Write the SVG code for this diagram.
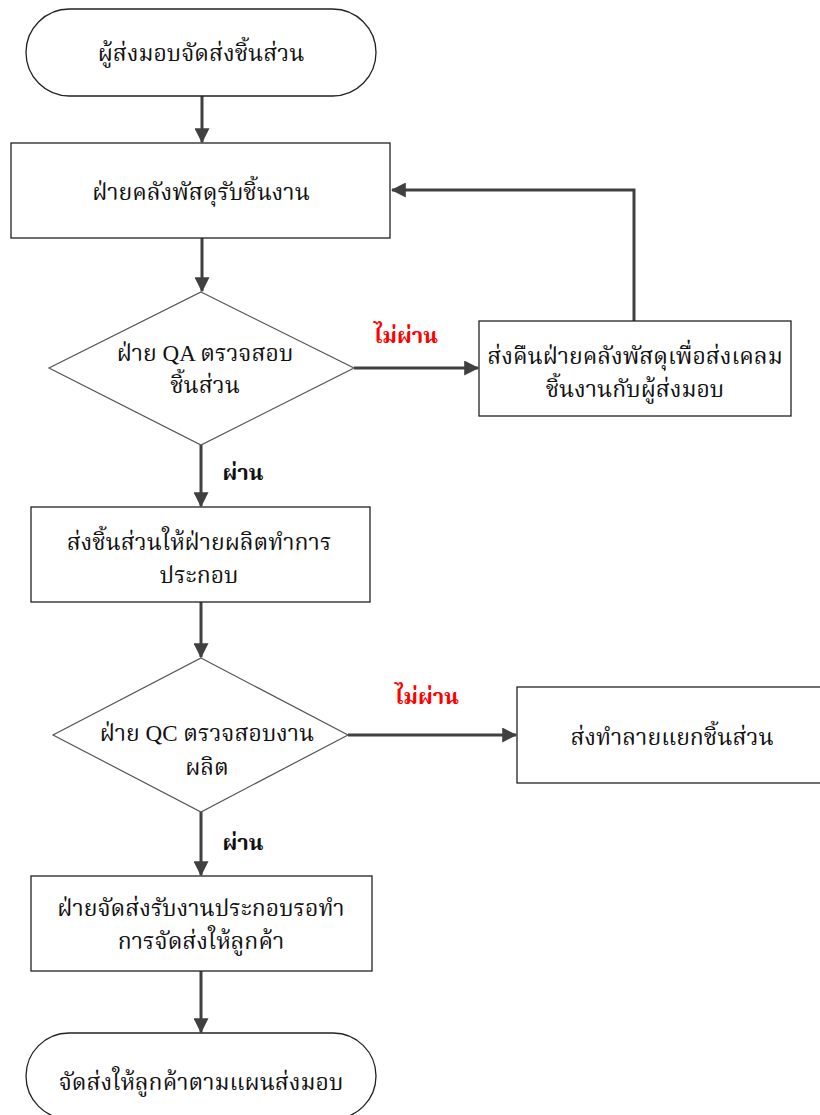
<svg xmlns="http://www.w3.org/2000/svg" width="820" height="1115" viewBox="0 0 820 1115">
  <defs>
    <marker id="arrow" markerWidth="5" markerHeight="5" refX="4.6" refY="2.5" orient="auto" markerUnits="strokeWidth">
      <path d="M0,0 L5,2.5 L0,5 Z" fill="#404040"/>
    </marker>
    <style>
      .shape { fill: #ffffff; stroke: #222222; stroke-width: 1.3; }
      .diamond { fill: #ffffff; stroke: #555555; stroke-width: 1.2; }
      .label { font-family: "Liberation Serif", "Noto Serif Thai", "Noto Sans Thai", "Noto Sans", serif; font-size: 23px; fill: #111111; text-anchor: middle; dominant-baseline: central; }
      .flow { fill: none; stroke: #404040; stroke-width: 3; marker-end: url(#arrow); }
      .no { font-family: "Liberation Serif", "Noto Serif Thai", "Noto Sans Thai", serif; font-size: 22px; font-weight: bold; fill: #ff0000; text-anchor: middle; dominant-baseline: central; }
      .yes { font-family: "Liberation Serif", "Noto Serif Thai", "Noto Sans Thai", serif; font-size: 22px; font-weight: bold; fill: #111111; text-anchor: middle; dominant-baseline: central; }
    </style>
  </defs>
  <rect width="820" height="1115" fill="#ffffff"/>

  <g id="connectors">
    <line class="flow" x1="202" y1="96" x2="202" y2="142"/>
    <line class="flow" x1="202" y1="238" x2="202" y2="291"/>
    <line class="flow" x1="354" y1="368" x2="478" y2="368"/>
    <polyline class="flow" points="634,321 634,190 392,190"/>
    <line class="flow" x1="201" y1="445" x2="201" y2="506"/>
    <line class="flow" x1="201" y1="602" x2="201" y2="657"/>
    <line class="flow" x1="348" y1="735" x2="516" y2="735"/>
    <line class="flow" x1="201" y1="812" x2="201" y2="875"/>
    <line class="flow" x1="201" y1="971" x2="201" y2="1032"/>
    <text class="no" x="406" y="335">ไม่ผ่าน</text>
    <text class="yes" x="243" y="472">ผ่าน</text>
    <text class="no" x="427" y="696">ไม่ผ่าน</text>
    <text class="yes" x="243" y="842">ผ่าน</text>
  </g>

  <g id="start">
    <rect class="shape" x="26" y="9" width="350" height="87" rx="43.5" ry="43.5"/>
    <text class="label" x="201" y="53">ผู้ส่งมอบจัดส่งชิ้นส่วน</text>
  </g>

  <g id="receive">
    <rect class="shape" x="11" y="143" width="379" height="95"/>
    <text class="label" x="201" y="192">ฝ่ายคลังพัสดุรับชิ้นงาน</text>
  </g>

  <g id="qa-check">
    <polygon class="diamond" points="201,292 354,368 201,445 49,368"/>
    <text class="label" x="205" y="353">ฝ่าย QA ตรวจสอบ</text>
    <text class="label" x="205" y="385">ชิ้นส่วน</text>
  </g>

  <g id="return-supplier">
    <rect class="shape" x="479" y="321" width="312" height="95"/>
    <text class="label" x="635" y="356">ส่งคืนฝ่ายคลังพัสดุเพื่อส่งเคลม</text>
    <text class="label" x="635" y="389">ชิ้นงานกับผู้ส่งมอบ</text>
  </g>

  <g id="to-production">
    <rect class="shape" x="31" y="507" width="339" height="95"/>
    <text class="label" x="199" y="542">ส่งชิ้นส่วนให้ฝ่ายผลิตทำการ</text>
    <text class="label" x="199" y="575">ประกอบ</text>
  </g>

  <g id="qc-check">
    <polygon class="diamond" points="201,658 348,735 201,812 53,735"/>
    <text class="label" x="207" y="733">ฝ่าย QC ตรวจสอบงาน</text>
    <text class="label" x="207" y="767">ผลิต</text>
  </g>

  <g id="scrap">
    <rect class="shape" x="517" y="687" width="310" height="96"/>
    <text class="label" x="672" y="737">ส่งทำลายแยกชิ้นส่วน</text>
  </g>

  <g id="shipping">
    <rect class="shape" x="31" y="876" width="341" height="95"/>
    <text class="label" x="201" y="908">ฝ่ายจัดส่งรับงานประกอบรอทำ</text>
    <text class="label" x="201" y="941">การจัดส่งให้ลูกค้า</text>
  </g>

  <g id="end">
    <rect class="shape" x="26" y="1033" width="350" height="86" rx="43" ry="43"/>
    <text class="label" x="201" y="1082">จัดส่งให้ลูกค้าตามแผนส่งมอบ</text>
  </g>
</svg>
